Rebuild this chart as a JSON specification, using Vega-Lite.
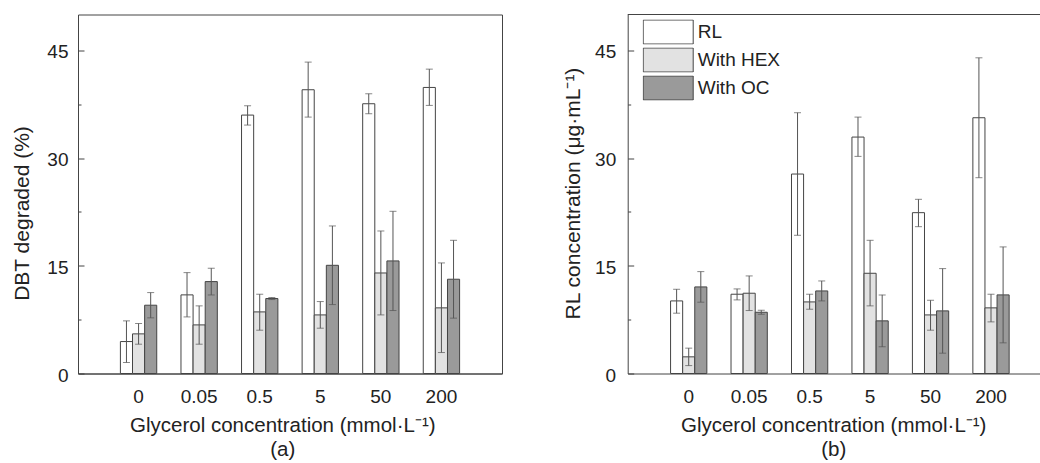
{
  "$schema": "https://vega.github.io/schema/vega-lite/v6.json",
  "padding": {"left": 10, "top": 13.5, "right": 0, "bottom": 0},
  "config": {
    "font": "Liberation Sans",
    "view": {"stroke": "#444", "strokeWidth": 1},
    "axis": {"domainColor": "#444", "domainWidth": 1, "tickColor": "#444", "labelColor": "#222", "titleColor": "#222", "labelFont": "Liberation Sans", "titleFont": "Liberation Sans", "titleFontWeight": "normal", "grid": false},
    "legend": {"labelFont": "Liberation Sans"}
  },
  "datasets": {
    "a": [
      {"g": "0", "s": "RL", "v": 4.45, "lo": 1.53, "hi": 7.33},
      {"g": "0", "s": "With HEX", "v": 5.52, "lo": 4.08, "hi": 6.96},
      {"g": "0", "s": "With OC", "v": 9.51, "lo": 7.75, "hi": 11.27},
      {"g": "0.05", "s": "RL", "v": 10.95, "lo": 7.88, "hi": 14.05},
      {"g": "0.05", "s": "With HEX", "v": 6.77, "lo": 4.08, "hi": 9.42},
      {"g": "0.05", "s": "With OC", "v": 12.8, "lo": 10.94, "hi": 14.66},
      {"g": "0.5", "s": "RL", "v": 35.99, "lo": 34.6, "hi": 37.29},
      {"g": "0.5", "s": "With HEX", "v": 8.58, "lo": 6.03, "hi": 11.04},
      {"g": "0.5", "s": "With OC", "v": 10.44, "lo": 10.3, "hi": 10.58},
      {"g": "5", "s": "RL", "v": 39.52, "lo": 35.71, "hi": 43.37},
      {"g": "5", "s": "With HEX", "v": 8.16, "lo": 6.31, "hi": 10.02},
      {"g": "5", "s": "With OC", "v": 15.07, "lo": 9.6, "hi": 20.55},
      {"g": "50", "s": "RL", "v": 37.57, "lo": 36.18, "hi": 38.96},
      {"g": "50", "s": "With HEX", "v": 14.0, "lo": 8.16, "hi": 19.85},
      {"g": "50", "s": "With OC", "v": 15.68, "lo": 8.77, "hi": 22.59},
      {"g": "200", "s": "RL", "v": 39.84, "lo": 37.34, "hi": 42.39},
      {"g": "200", "s": "With HEX", "v": 9.14, "lo": 2.92, "hi": 15.4},
      {"g": "200", "s": "With OC", "v": 13.13, "lo": 7.71, "hi": 18.55}
    ],
    "b": [
      {"g": "0", "s": "RL", "v": 10.11, "lo": 8.4, "hi": 11.73},
      {"g": "0", "s": "With HEX", "v": 2.32, "lo": 1.1, "hi": 3.53},
      {"g": "0", "s": "With OC", "v": 12.06, "lo": 9.93, "hi": 14.19},
      {"g": "0.05", "s": "RL", "v": 11.04, "lo": 10.25, "hi": 11.78},
      {"g": "0.05", "s": "With HEX", "v": 11.18, "lo": 8.77, "hi": 13.59},
      {"g": "0.05", "s": "With OC", "v": 8.53, "lo": 8.25, "hi": 8.81},
      {"g": "0.5", "s": "RL", "v": 27.78, "lo": 19.25, "hi": 36.32},
      {"g": "0.5", "s": "With HEX", "v": 9.97, "lo": 8.95, "hi": 11.04},
      {"g": "0.5", "s": "With OC", "v": 11.5, "lo": 10.11, "hi": 12.89},
      {"g": "5", "s": "RL", "v": 32.93, "lo": 30.24, "hi": 35.71},
      {"g": "5", "s": "With HEX", "v": 13.96, "lo": 9.42, "hi": 18.55},
      {"g": "5", "s": "With OC", "v": 7.33, "lo": 3.71, "hi": 10.95},
      {"g": "50", "s": "RL", "v": 22.4, "lo": 20.45, "hi": 24.26},
      {"g": "50", "s": "With HEX", "v": 8.16, "lo": 6.03, "hi": 10.2},
      {"g": "50", "s": "With OC", "v": 8.72, "lo": 2.83, "hi": 14.61},
      {"g": "200", "s": "RL", "v": 35.62, "lo": 27.27, "hi": 43.97},
      {"g": "200", "s": "With HEX", "v": 9.14, "lo": 7.19, "hi": 11.04},
      {"g": "200", "s": "With OC", "v": 10.95, "lo": 4.27, "hi": 17.63}
    ]
  },
  "spacing": 125.7,
  "bounds": "flush",
  "resolve": {"scale": {"xOffset": "independent", "fill": "independent"}, "legend": {"fill": "independent"}},
  "hconcat": [
    {
      "width": 424,
      "height": 359,
      "data": {"name": "a"},
      "encoding": {
        "x": {
          "field": "g", "type": "nominal",
          "sort": ["0", "0.05", "0.5", "5", "50", "200"],
          "title": ["Glycerol concentration (mmol·L⁻¹)", "(a)"],
          "scale": {"paddingInner": 0.4, "paddingOuter": 0.7},
          "axis": {"labelAngle": 0, "ticks": false, "tickSize": 0, "labelFontSize": 19, "labelBaseline": "alphabetic", "labelPadding": 29, "titleFontSize": 20.5, "titleX": 204.3, "titleY": 57.7, "titleBaseline": "alphabetic", "titleAlign": "center", "titleLineHeight": 24}
        },
        "xOffset": {"field": "s", "type": "nominal", "sort": ["RL", "With HEX", "With OC"], "scale": {"paddingInner": 0, "paddingOuter": 0}},
        "y": {
          "field": "v", "type": "quantitative", "title": "DBT degraded (%)",
          "scale": {"domain": [0, 50], "nice": false},
          "axis": {"values": [0, 7.5, 15, 22.5, 30, 37.5, 45], "labelExpr": "datum.value % 15 === 0 ? datum.label : ''", "tickSize": -6, "tickDash": {"condition": {"test": "datum.value % 15 === 0", "value": [6, 0]}, "value": [3, 10]}, "labelFontSize": 19, "labelPadding": 16, "labelOffset": 1.5, "titleFontSize": 21, "titleX": -56, "titleY": 198.5, "titleBaseline": "middle", "titleAlign": "center", "titleAngle": 270}
        }
      },
      "layer": [
        {
          "mark": {"type": "bar", "stroke": "#444", "strokeWidth": 1},
          "encoding": {
            "fill": {"field": "s", "type": "nominal", "scale": {"domain": ["RL", "With HEX", "With OC"], "range": ["#ffffff", "#e2e2e2", "#9a9a9a"]}, "legend": null}
          }
        },
        {
          "mark": {"type": "rule", "color": "#555", "strokeWidth": 1},
          "encoding": {"y": {"field": "lo", "type": "quantitative"}, "y2": {"field": "hi"}}
        },
        {
          "mark": {"type": "tick", "color": "#555", "size": 7, "thickness": 1},
          "encoding": {"y": {"field": "hi", "type": "quantitative"}}
        },
        {
          "mark": {"type": "tick", "color": "#555", "size": 7, "thickness": 1},
          "encoding": {"y": {"field": "lo", "type": "quantitative"}}
        }
      ]
    },
    {
      "width": 413,
      "height": 359,
      "view": {"stroke": null},
      "layer": [
        {
          "data": {"name": "b"},
          "mark": {"type": "bar", "stroke": "#444", "strokeWidth": 1},
          "encoding": {
            "x": {
              "field": "g", "type": "nominal",
              "sort": ["0", "0.05", "0.5", "5", "50", "200"],
              "title": ["Glycerol concentration (mmol·L⁻¹)", "(b)"],
              "scale": {"paddingInner": 0.4, "paddingOuter": 0.6155, "align": 0.576},
              "axis": {"labelAngle": 0, "ticks": false, "tickSize": 0, "labelFontSize": 19, "labelBaseline": "alphabetic", "labelPadding": 29, "titleFontSize": 20.5, "titleX": 205.5, "titleY": 57.7, "titleBaseline": "alphabetic", "titleAlign": "center", "titleLineHeight": 24}
            },
            "xOffset": {"field": "s", "type": "nominal", "sort": ["RL", "With HEX", "With OC"], "scale": {"paddingInner": 0, "paddingOuter": 0}},
            "y": {
              "field": "v", "type": "quantitative", "title": "RL concentration (μg·mL⁻¹)",
              "scale": {"domain": [0, 50], "nice": false},
              "axis": {"values": [0, 7.5, 15, 22.5, 30, 37.5, 45], "labelExpr": "datum.value % 15 === 0 ? datum.label : ''", "tickSize": -6, "tickDash": {"condition": {"test": "datum.value % 15 === 0", "value": [6, 0]}, "value": [3, 10]}, "labelFontSize": 19, "labelPadding": 18, "labelOffset": 1.5, "titleFontSize": 21, "titleX": -54.2, "titleY": 178.5, "titleBaseline": "middle", "titleAlign": "center", "titleAngle": 270}
            },
            "fill": {
              "field": "s", "type": "nominal",
              "scale": {"domain": ["RL", "With HEX", "With OC"], "range": ["#ffffff", "#e2e2e2", "#9a9a9a"]},
              "legend": {"title": null, "orient": "none", "legendX": 15, "legendY": 5, "padding": 0, "symbolType": "M-1,-0.48H1V0.48H-1Z", "symbolSize": 2500, "clipHeight": 25, "symbolStrokeColor": "#444", "symbolStrokeWidth": 1, "symbolOpacity": 1, "labelFontSize": 19, "labelColor": "#222", "labelOffset": 4, "rowPadding": 3}
            }
          }
        },
        {
          "data": {"name": "b"},
          "mark": {"type": "rule", "color": "#555", "strokeWidth": 1},
          "encoding": {
            "x": {"field": "g", "type": "nominal", "sort": ["0", "0.05", "0.5", "5", "50", "200"]},
            "xOffset": {"field": "s", "type": "nominal", "sort": ["RL", "With HEX", "With OC"]},
            "y": {"field": "lo", "type": "quantitative"}, "y2": {"field": "hi"}
          }
        },
        {
          "data": {"name": "b"},
          "mark": {"type": "tick", "color": "#555", "size": 7, "thickness": 1},
          "encoding": {
            "x": {"field": "g", "type": "nominal", "sort": ["0", "0.05", "0.5", "5", "50", "200"]},
            "xOffset": {"field": "s", "type": "nominal", "sort": ["RL", "With HEX", "With OC"]},
            "y": {"field": "hi", "type": "quantitative"}
          }
        },
        {
          "data": {"name": "b"},
          "mark": {"type": "tick", "color": "#555", "size": 7, "thickness": 1},
          "encoding": {
            "x": {"field": "g", "type": "nominal", "sort": ["0", "0.05", "0.5", "5", "50", "200"]},
            "xOffset": {"field": "s", "type": "nominal", "sort": ["RL", "With HEX", "With OC"]},
            "y": {"field": "lo", "type": "quantitative"}
          }
        },
        {
          "data": {"values": [{}]},
          "mark": {"type": "rule", "color": "#444", "strokeWidth": 1},
          "encoding": {"y": {"datum": 50, "type": "quantitative"}}
        }
      ]
    }
  ]
}
